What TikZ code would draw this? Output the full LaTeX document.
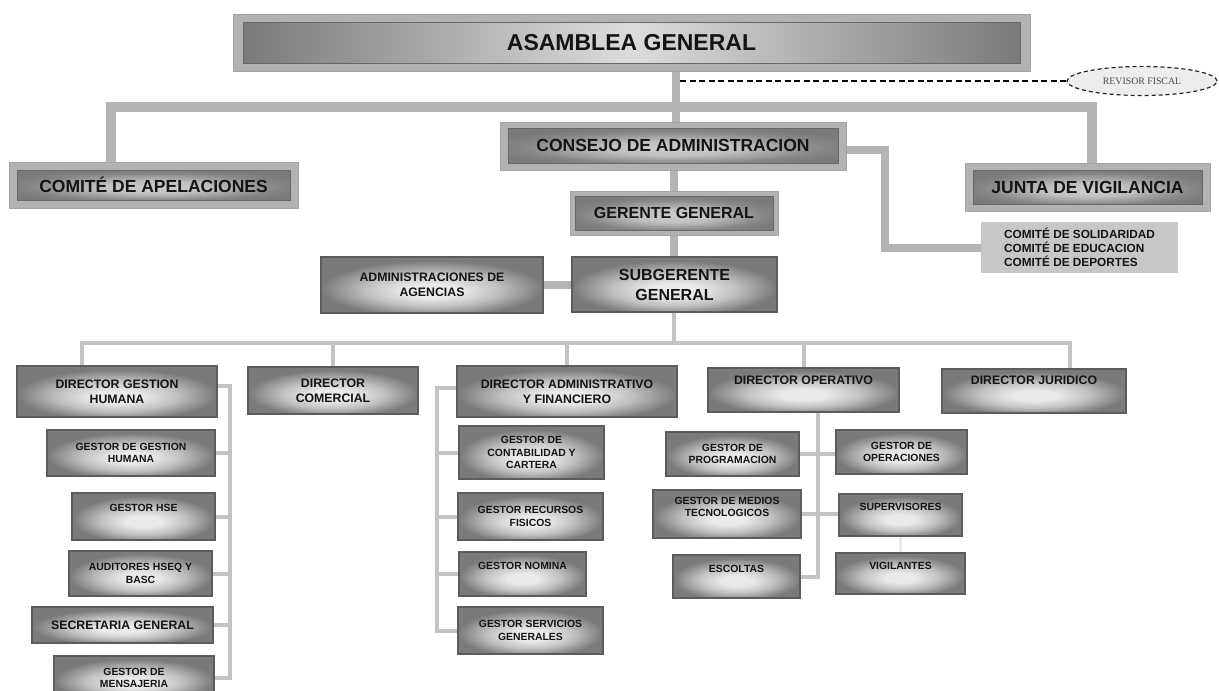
\documentclass[tikz,border=0pt]{standalone}
\usepackage{fontspec}
\setmainfont{Liberation Sans}
\newfontfamily\revfont{Liberation Serif}
\usetikzlibrary{shapes.geometric}

\definecolor{framegray}{HTML}{B2B2B2}
\definecolor{linegray}{HTML}{B4B4B4}
\definecolor{thingray}{HTML}{C4C4C4}
\definecolor{edgegray}{HTML}{5C5C5C}
\definecolor{inkgray}{HTML}{141414}
\definecolor{glowlight}{HTML}{EAEAEA}
\definecolor{glowmid}{HTML}{C0C0C0}
\definecolor{glowdark}{HTML}{7A7A7A}

% soft light spot below the centre of each box
\pgfdeclareradialshading{glow}{\pgfpoint{0bp}{-6bp}}{%
  color(0bp)=(glowlight); color(6bp)=(glowlight); color(15bp)=(glowmid);
  color(25bp)=(glowdark); color(50bp)=(glowdark)}
\pgfdeclareradialshading{softglow}{\pgfpoint{0bp}{-5bp}}{%
  color(0bp)=(glowmid!80!white); color(10bp)=(glowmid); color(23bp)=(glowdark!92!white);
  color(29bp)=(glowdark); color(50bp)=(glowdark)}

\pgfdeclarelayer{background}
\pgfsetlayers{background,main}

\tikzset{
  every node/.style={text=inkgray, font=\bfseries, align=center, inner sep=0pt},
  outerframe/.style={fill=framegray, draw=framegray!92!black, line width=0.6pt},
  innerpanel/.style={shading=softglow, draw=glowdark!85!black, line width=0.6pt},
  unit/.style={shading=glow, draw=edgegray, line width=2.4pt},
  bigline/.style={draw=linegray, line width=8pt},
  thinline/.style={draw=thingray, line width=4pt},
  big/.style={font=\bfseries\fontsize{17.5}{20}\selectfont},
  mid/.style={font=\bfseries\fontsize{16}{20}\selectfont},
  dirtext/.style={font=\bfseries\fontsize{12.3}{15}\selectfont},
  gestext/.style={font=\bfseries\fontsize{10.4}{12.5}\selectfont},
}

\begin{document}
\begin{tikzpicture}[x=1pt,y=-1pt]
\useasboundingbox (0,0) rectangle (1219,691);

% ---------------- upper governance level ----------------
\node[outerframe, minimum width=797, minimum height=57] (asamblea) at (631.5,42.5) {};
\node[left color=glowdark, right color=glowdark, middle color=glowmid!55!white,
      draw=glowdark!85!black, line width=0.6pt,
      minimum width=777, minimum height=41,
      font=\bfseries\fontsize{23}{26}\selectfont] (asambleain) at (631.5,42.5) {ASAMBLEA GENERAL};

\node[ellipse, draw=black!85, dashed, dash pattern=on 4pt off 3pt, line width=1.2pt, fill=black!7,
      minimum width=150, minimum height=29, text=black!72,
      font=\revfont\fontsize{9.8}{11}\selectfont] (revisor) at (1142,81) {REVISOR FISCAL};

\node[outerframe, minimum width=346, minimum height=48] (consejo) at (673,146) {};
\node[innerpanel, minimum width=330, minimum height=35, big] (consejoin) at (673,145.5) {CONSEJO DE ADMINISTRACION};

\node[outerframe, minimum width=289, minimum height=46] (comite) at (153.5,185) {};
\node[innerpanel, minimum width=273, minimum height=30, big] (comitein) at (153.5,185) {COMITÉ DE APELACIONES};

\node[outerframe, minimum width=245, minimum height=48] (junta) at (1087.5,187) {};
\node[innerpanel, minimum width=229, minimum height=34, big] (juntain) at (1087.5,187) {JUNTA DE VIGILANCIA};

\node[outerframe, minimum width=208, minimum height=44] (gerente) at (674,213) {};
\node[innerpanel, minimum width=198, minimum height=34, mid] (gerentein) at (674,213) {GERENTE GENERAL};

\node[fill=black!22, minimum width=197, minimum height=51, align=left,
      font=\bfseries\fontsize{11.8}{14}\selectfont] (comites) at (1079.5,247.5)
  {COMITÉ DE SOLIDARIDAD\\COMITÉ DE EDUCACION\\COMITÉ DE DEPORTES};

\node[unit, minimum width=205, minimum height=55, mid] (subgerente) at (674.5,284.5) {SUBGERENTE\\GENERAL};
\node[unit, minimum width=222, minimum height=56, dirtext] (agencias) at (432,285) {ADMINISTRACIONES DE\\AGENCIAS};

% ---------------- directors ----------------
\node[unit, minimum width=200, minimum height=51, dirtext] (dgh) at (117,391.5) {DIRECTOR GESTION\\HUMANA};
\node[unit, minimum width=170, minimum height=47, dirtext] (dc) at (333,390.5) {DIRECTOR\\COMERCIAL};
\node[unit, minimum width=220, minimum height=51, dirtext] (daf) at (567,391.5) {DIRECTOR ADMINISTRATIVO\\Y FINANCIERO};
\node[unit, minimum width=191, minimum height=44, dirtext] (dop) at (803.5,390) {DIRECTOR OPERATIVO\\[4pt]\mbox{}};
\node[unit, minimum width=184, minimum height=44, dirtext] (dj) at (1034,391) {DIRECTOR JURIDICO\\[6pt]\mbox{}};

% ---------------- human resources ----------------
\node[unit, minimum width=168, minimum height=46, gestext] (ggh) at (131,453) {GESTOR DE GESTION\\HUMANA};
\node[unit, minimum width=143, minimum height=47, gestext] (hse) at (143.5,516.5) {GESTOR HSE\\[4pt]\mbox{}};
\node[unit, minimum width=143, minimum height=45, gestext] (aud) at (140.5,573.5) {AUDITORES HSEQ Y\\BASC};
\node[unit, minimum width=181, minimum height=36, dirtext] (sec) at (122.5,625) {SECRETARIA GENERAL};
\node[unit, minimum width=160, minimum height=44, gestext] (mens) at (134,678) {GESTOR DE\\MENSAJERIA};

% ---------------- administration and finance ----------------
\node[unit, minimum width=145, minimum height=53, gestext] (gcc) at (531.5,452.5) {GESTOR DE\\CONTABILIDAD Y\\CARTERA};
\node[unit, minimum width=145, minimum height=47, gestext] (grf) at (530.5,516.5) {GESTOR RECURSOS\\FISICOS};
\node[unit, minimum width=127, minimum height=44, gestext] (gn) at (522.5,574) {GESTOR NOMINA\\[4pt]\mbox{}};
\node[unit, minimum width=145, minimum height=47, gestext] (gsg) at (530.5,630.5) {GESTOR SERVICIOS\\GENERALES};

% ---------------- operations ----------------
\node[unit, minimum width=133, minimum height=44, gestext] (gp) at (732.5,454) {GESTOR DE\\PROGRAMACION};
\node[unit, minimum width=131, minimum height=44, gestext] (go) at (901.5,452) {GESTOR DE\\OPERACIONES};
\node[unit, minimum width=148, minimum height=48, gestext] (gmt) at (727,514) {GESTOR DE MEDIOS\\TECNOLOGICOS\\[2pt]\mbox{}};
\node[unit, minimum width=123, minimum height=42, gestext] (sup) at (900.5,515) {SUPERVISORES\\[3pt]\mbox{}};
\node[unit, minimum width=127, minimum height=43, gestext] (esc) at (736.5,576.5) {ESCOLTAS\\[3pt]\mbox{}};
\node[unit, minimum width=129, minimum height=41, gestext] (vig) at (900.5,573.5) {VIGILANTES\\[3pt]\mbox{}};

% ---------------- connectors ----------------
\coordinate (barL) at (111,107);
\coordinate (barR) at (1092,107);
\coordinate (stem) at (676,0);
\coordinate (midstem) at (674,0);
\coordinate (dashstart) at (680,81);
\coordinate (cjog) at (885,0);
\coordinate (lowL) at (82,343);
\coordinate (lowR) at (1070,343);
\coordinate (ghv) at (230,0);
\coordinate (afv) at (437,0);
\coordinate (opv) at (818,0);

\begin{pgfonlayer}{background}
  \draw[bigline] (stem |- asamblea.south) -- (stem |- consejo.north);
  \draw[bigline, line width=10pt] (barL |- comite.north) -- (barL) -- (barR) -- (barR |- junta.north);
  \draw[line width=1.4pt, dash pattern=on 6pt off 3.5pt] (dashstart) -- (revisor.west);
  \draw[bigline] (midstem |- consejo.south) -- (midstem |- gerente.north);
  \draw[bigline] (midstem |- gerente.south) -- (midstem |- subgerente.north);
  \draw[bigline] ([yshift=-4pt]consejo.east) -| (cjog |- comites.west) -- (comites.west);
  \draw[bigline] (agencias.east) -- (agencias.east -| subgerente.west);

  \draw[thinline] (midstem |- subgerente.south) -- (midstem |- lowL);
  \draw[thinline] (lowL |- dgh.north) -- (lowL) -- (lowR) -- (lowR |- dj.north);
  \draw[thinline] (dc.north) -- (dc.north |- lowL);
  \draw[thinline] (daf.north) -- (daf.north |- lowL);
  \draw[thinline] (dop.north) -- (dop.north |- lowL);

  \draw[thinline] ([yshift=6pt]dgh.east) -| (ghv |- mens.east) -- (mens.east);
  \foreach \n in {ggh,hse,aud,sec} \draw[thinline] (\n.east) -- (ghv |- \n.east);

  \draw[thinline] ([yshift=4pt]daf.west) -| (afv |- gsg.west) -- (gsg.west);
  \foreach \n in {gcc,grf,gn} \draw[thinline] (\n.west) -- (afv |- \n.west);

  \draw[thinline] (opv |- dop.south) -- (opv |- esc.east) -- (esc.east);
  \draw[thinline] (gp.east) -- (go.west |- gp.east);
  \draw[thinline] (gmt.east) -- (sup.west |- gmt.east);
  \draw[draw=black!8, line width=3pt] (sup.south) -- (vig.north);
\end{pgfonlayer}
\end{tikzpicture}
\end{document}
